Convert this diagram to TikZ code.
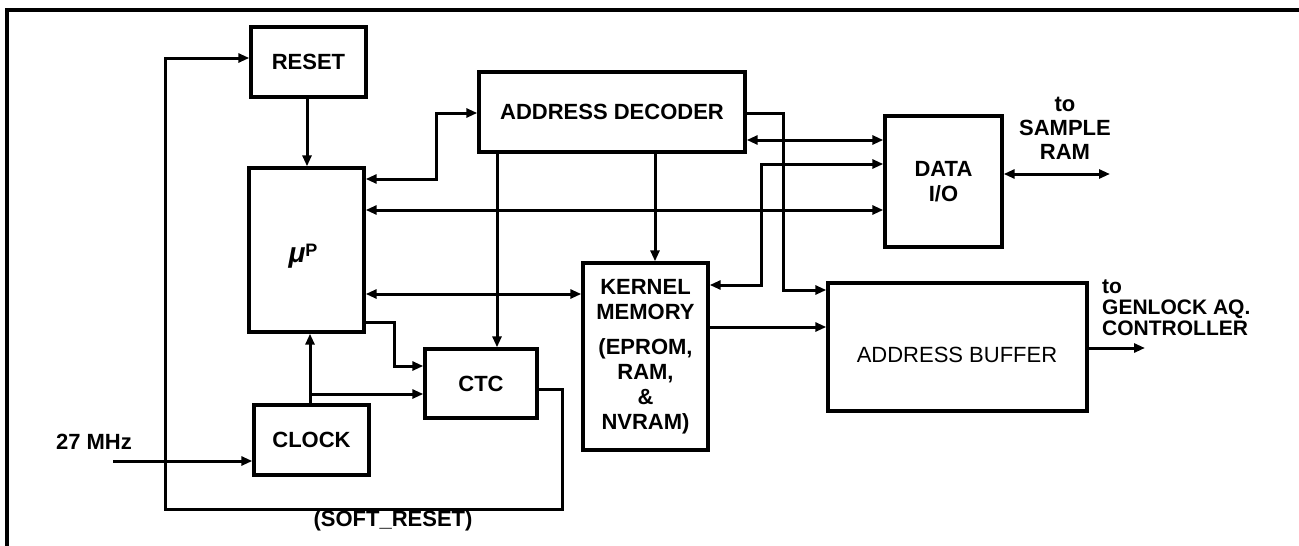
\documentclass[tikz,border=0pt]{standalone}
\usepackage{fontspec}
\setmainfont{Liberation Sans}
\usetikzlibrary{arrows.meta}
\begin{document}
\begin{tikzpicture}[x=1pt,y=-1pt,
  box/.style={draw, line width=3.4pt, rectangle, inner sep=0pt,
    font=\fontsize{22}{25}\selectfont\bfseries, align=center},
  lbl/.style={inner sep=0pt, font=\fontsize{22}{24}\selectfont\bfseries, align=center},
  lblr/.style={inner sep=0pt, font=\fontsize{21}{21}\selectfont\bfseries, align=left},
  wire/.style={line width=3pt},
  >={Triangle[length=11pt,width=9pt]}
]
\useasboundingbox (0,0) rectangle (1299,546);
% frame
\draw[line width=3.5pt] (7,546) -- (7,10) -- (1299,10);

% blocks
\node[box, minimum width=115pt, minimum height=70pt]  (RESET) at (308.5,62)  {RESET};
\node[box, minimum width=115pt, minimum height=164pt] (muP)   at (306.5,250) {};
\node[box, minimum width=266pt, minimum height=80pt]  (AD)    at (612,112)   {ADDRESS DECODER};
\node[box, minimum width=117pt, minimum height=131pt] (DIO)   at (943.5,181.5) {DATA\\I/O};
\node[box, minimum width=125pt, minimum height=187pt] (KM)    at (645.5,356.5)
  {KERNEL\\MEMORY\\[10pt](EPROM,\\RAM,\\\&\\NVRAM)};
\node[box, minimum width=112pt, minimum height=69pt]  (CTC)   at (481,383.5) {CTC};
\node[box, minimum width=115pt, minimum height=70pt]  (CLOCK) at (311.5,440) {CLOCK};
\node[box, minimum width=259pt, minimum height=128pt] (AB)    at (957.5,347) {};

% texts inside
\node[inner sep=0pt] (muPt) at (303,256)
  {{\fontsize{28}{28}\selectfont\itshape\bfseries μ}\raisebox{6pt}{\fontsize{18}{18}\selectfont\bfseries P}};
\node[inner sep=0pt, font=\fontsize{22}{24}\selectfont] (ABt) at (957,355) {ADDRESS BUFFER};

% labels
\node[lbl] (t27) at (94,442) {27 MHz};
\node[lbl] (soft) at (393,521) {(SOFT\_RESET)};
\node[lbl] (tsr) at (1065,128) {to\\SAMPLE\\RAM};
\node[lblr, anchor=west] (tgl) at (1102,308) {to\\GENLOCK AQ.\\CONTROLLER};

% free ends
\coordinate (f27) at (113,461);
\coordinate (sram) at (1110,174);
\coordinate (genl) at (1145,348);

% connectors
\draw[wire,->] (CTC.east |- 0,389) -| (562,509) -| (165,58) -- (RESET.west |- 0,58);
\draw[wire,->] (f27) -- (CLOCK.west |- f27);
\draw[wire,->] (RESET.south -| 307,0) -- (muP.north -| 307,0);
\draw[wire,->] (CLOCK.north -| 310,0) -- (muP.south -| 310,0);
\draw[wire,->] (310,394) -- (CTC.west |- 0,394);
\draw[wire,->] (muP.east |- 0,322) -| (394,366) -- (CTC.west |- 0,366);
\draw[wire,<->] (muP.east |- 0,179) -| (436,113) -- (AD.west |- 0,113);
\draw[wire,<->] (muP.east |- 0,210) -- (DIO.west |- 0,210);
\draw[wire,<->] (muP.east |- 0,294) -- (KM.west |- 0,294);
\draw[wire,->] (AD.south -| 497,0) -- (CTC.north -| 497,0);
\draw[wire,->] (AD.south -| 655,0) -- (KM.north -| 655,0);
\draw[wire,->] (AD.east |- 0,113) -| (783,290) -- (AB.west |- 0,290);
\draw[wire,<->] (AD.east |- 0,140) -- (DIO.west |- 0,140);
\draw[wire,<->] (DIO.west |- 0,164) -| (761,285) -- (KM.east |- 0,285);
\draw[wire,->] (KM.east |- 0,327) -- (AB.west |- 0,327);
\draw[wire,<->] (DIO.east |- sram) -- (sram);
\draw[wire,->] (AB.east |- genl) -- (genl);
\end{tikzpicture}
\end{document}
